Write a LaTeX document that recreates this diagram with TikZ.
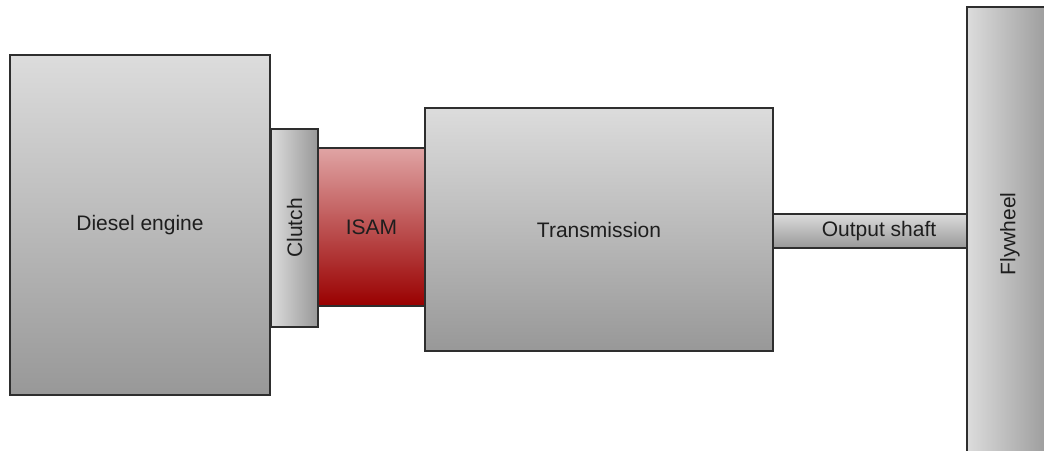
\documentclass[tikz,border=0pt]{standalone}
\usepackage{fontspec}
\setmainfont{Liberation Sans}
\usetikzlibrary{shadings}
\definecolor{edge}{HTML}{2E2E2E}
\definecolor{greylight}{HTML}{DCDCDC}
\definecolor{greydark}{HTML}{989898}
\definecolor{isamtop}{HTML}{E0A4A4}
\definecolor{isambot}{HTML}{990000}
\definecolor{label}{HTML}{1E1E1E}
\begin{document}
\begin{tikzpicture}[x=1bp,y=-1bp,
  part/.style={draw=edge, line width=1.3bp, inner sep=0pt, outer sep=0pt,
    text=label, font=\fontsize{21bp}{24bp}\selectfont},
  vgrey/.style={part, top color=greylight, bottom color=greydark},
  hgrey/.style={part, left color=greylight, right color=greydark},
  motor/.style={part, top color=isamtop, bottom color=isambot}]
\useasboundingbox (0,0) rectangle (1044,451);
% drivetrain components, left to right
\node[vgrey, minimum width=260bp, minimum height=340bp] (engine) at (140,225) {Diesel engine};
\node[hgrey, minimum width=47bp, minimum height=198bp] (clutch) at (294.5,228) {\rotatebox{90}{Clutch}};
\node[motor, minimum width=107bp, minimum height=158bp] (isam) at (371.5,227) {ISAM};
\node[vgrey, minimum width=348bp, minimum height=243bp] (trans) at (599,229.5) {Transmission};
\node[vgrey, minimum width=212bp, minimum height=34bp] (shaft) at (879,231) {Output shaft};
\node[hgrey, minimum width=86bp, minimum height=454bp] (flywheel) at (1010,234) {\rotatebox{90}{Flywheel}};
\end{tikzpicture}
\end{document}
